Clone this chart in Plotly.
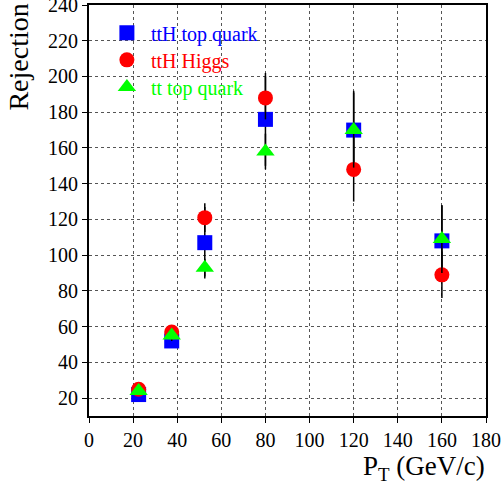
import plotly.graph_objects as go

# Transverse momentum bins (GeV/c)
pt = [22.5, 37.5, 52.5, 80, 120, 160]

# Rejection per sample
tth_top = [22, 52, 107, 176, 170, 108]
tth_top_err = [2, 3, 20, 26, 22, 20]
tth_higgs = [25, 57, 121, 188, 148, 89]
tth_higgs_err = [2, 3, 8, 12, 18, 13]
tt_top = [24, 55, 93, 158, 170, 109]
tt_top_err = [2, 3, 5, 10, 21, 19]

series = [
    ("ttH top quark", tth_top, tth_top_err, "square", "#0000ff", 15, "legend"),
    ("ttH Higgs", tth_higgs, tth_higgs_err, "circle", "#ff0000", 15, "legend2"),
    ("tt top quark", tt_top, tt_top_err, "triangle-up", "#00ff00", 16, "legend3"),
]

FONT = "Liberation Serif"

fig = go.Figure()
for name, vals, errs, sym, col, size, leg in series:
    fig.add_trace(go.Scatter(
        x=pt, y=vals, mode="markers", name=name, legend=leg,
        marker=dict(symbol=sym, color=col, size=size, line=dict(width=0)),
        error_y=dict(type="data", array=errs, color="black", thickness=1.5, width=0),
    ))

legend_y = [0.98, 0.914, 0.848]
legends = {}
for (name, _, _, _, col, _, leg), ly in zip(series, legend_y):
    legends[leg] = dict(
        x=0.035, y=ly, xanchor="left", yanchor="top",
        bgcolor="rgba(0,0,0,0)", borderwidth=0,
        font=dict(family=FONT, size=20, color=col),
        itemwidth=38,
    )

axis_common = dict(
    showline=True, linecolor="black", linewidth=2, mirror=True,
    ticks="outside", ticklen=5, tickcolor="black", tickwidth=1,
    showgrid=True, gridcolor="#555555", griddash="dot", gridwidth=1,
    zeroline=False, ticklabeloverflow="allow", automargin=False,
    tickfont=dict(family=FONT, size=20, color="black"),
)

fig.update_layout(
    width=501, height=485,
    margin=dict(l=89, r=15, t=5, b=69),
    paper_bgcolor="white", plot_bgcolor="white",
    font=dict(family=FONT),
    showlegend=True,
    xaxis=dict(range=[0, 180], tickvals=list(range(0, 181, 20)), **axis_common),
    yaxis=dict(range=[10, 240], tickvals=list(range(20, 241, 20)), **axis_common),
    annotations=[
        dict(text="Rejection", xref="paper", yref="paper", x=-0.222, y=1.008,
             xanchor="left", yanchor="top", textangle=-90, showarrow=False,
             font=dict(family=FONT, size=28, color="black")),
        dict(text="P<sub>T</sub> (GeV/c)", xref="paper", yref="paper", x=1.003, y=-0.08,
             xanchor="right", yanchor="top", showarrow=False,
             font=dict(family=FONT, size=27, color="black")),
    ],
    **legends,
)

fig.write_html("out.html")
